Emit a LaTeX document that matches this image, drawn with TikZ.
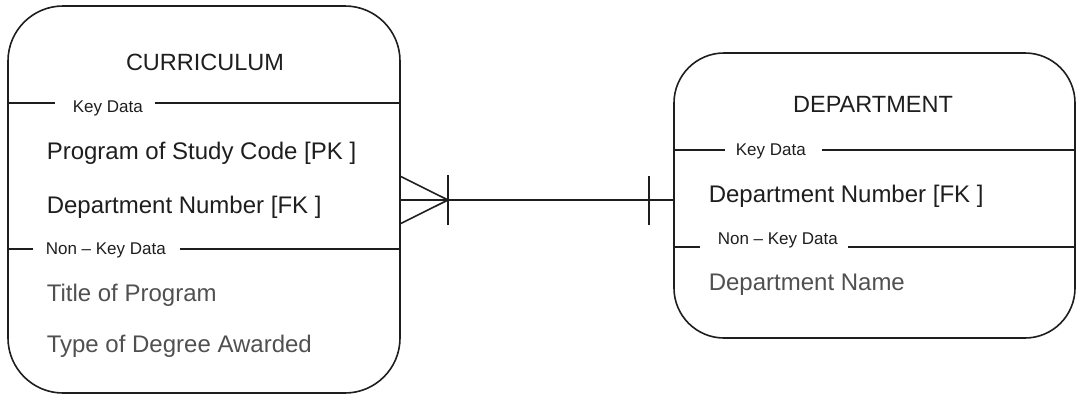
\documentclass[tikz,border=0pt]{standalone}
\usepackage{fontspec}
\setmainfont{Liberation Sans}
\definecolor{ink}{HTML}{1E1E1E}
\definecolor{soft}{HTML}{505050}
\begin{document}
\begin{tikzpicture}[x=1pt,y=-1pt,line width=1.6pt,
  ent/.style={draw=ink, rounded corners=55pt, inner sep=0pt},
  ttl/.style={font=\fontsize{23.5}{26}\selectfont, text=ink, inner sep=0pt, anchor=base},
  attr/.style={font=\fontsize{24}{27}\selectfont, text=ink, inner sep=0pt, anchor=base west},
  nattr/.style={font=\fontsize{24}{27}\selectfont, text=soft, inner sep=0pt, anchor=base west},
  sect/.style={font=\fontsize{17}{19}\selectfont, text=ink, inner sep=0pt, anchor=base west},
  rule/.style={draw=ink, line width=1.6pt}]
\useasboundingbox (0,0) rectangle (1079,397);
% CURRICULUM entity
\node[ent, minimum width=392pt, minimum height=387pt] (cur) at (204,199.5) {};
\node[ttl] (curT) at (205,70) {CURRICULUM};
\node[sect] (curK) at (72,112) {Key Data};
\draw[rule] (8,103) -- (55,103);
\draw[rule] (155,103) -- (400,103);
\node[attr] (curA1) at (46,159) {Program of Study Code [PK ]};
\node[attr] (curA2) at (46,213) {Department Number [FK ]};
\node[sect] (curN) at (45,254) {Non -- Key Data};
\draw[rule] (8,249) -- (33,249);
\draw[rule] (180,249) -- (400,249);
\node[nattr] (curB1) at (46,301) {Title of Program};
\node[nattr] (curB2) at (46,352) {Type of Degree Awarded};
% DEPARTMENT entity
\node[ent, rounded corners=50pt, minimum width=401pt, minimum height=285pt] (dep) at (874.5,195.5) {};
\node[ttl] (depT) at (873,112) {DEPARTMENT};
\node[sect] (depK) at (735,155) {Key Data};
\draw[rule] (674,150) -- (725,150);
\draw[rule] (822,150) -- (1075,150);
\node[attr] (depA1) at (708,202) {Department Number [FK ]};
\node[sect] (depN) at (717,244) {Non -- Key Data};
\draw[rule] (674,247) -- (700,247);
\draw[rule] (848,247) -- (1075,247);
\node[nattr] (depB1) at (708,290) {Department Name};
% relationship
\coordinate (lend) at (cur.east |- 0,200);
\coordinate (rend) at (dep.west |- 0,200);
\coordinate (tip) at (448,200);
\coordinate (bar2) at (649,200);
\draw[rule] (lend) -- (rend);
\draw[rule] ([yshift=-23.5pt]lend) -- (tip) -- ([yshift=23.5pt]lend);
\draw[rule] ([yshift=-25pt]tip) -- ([yshift=25pt]tip);
\draw[rule] ([yshift=-25pt]bar2) -- ([yshift=24pt]bar2);
\end{tikzpicture}
\end{document}
